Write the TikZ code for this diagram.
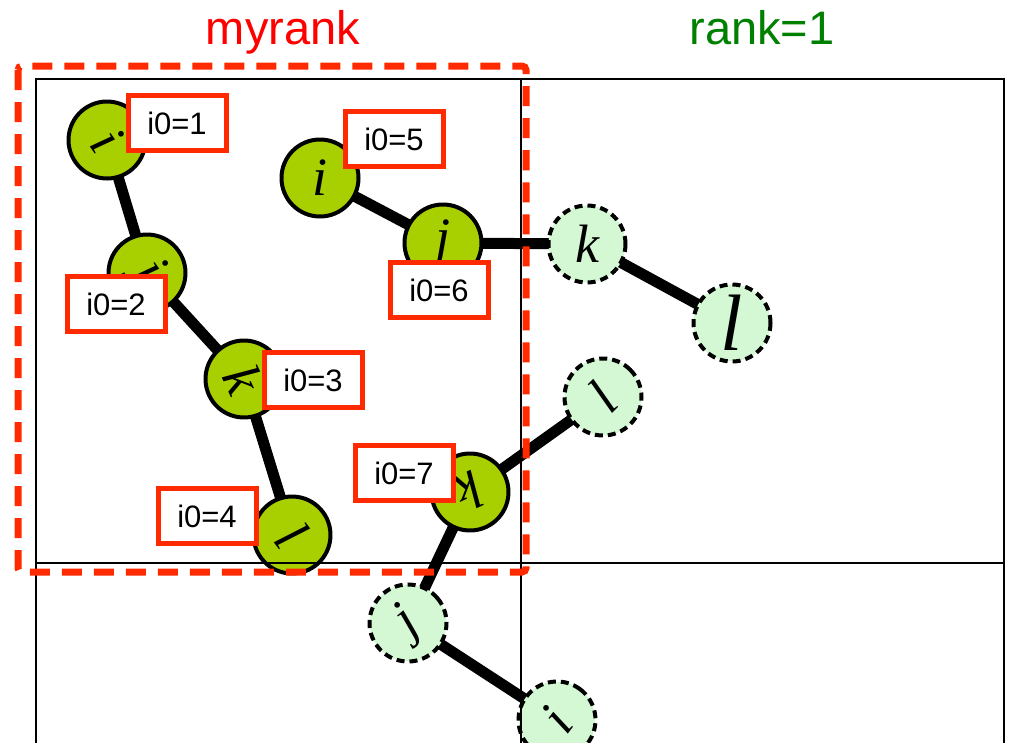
\documentclass[tikz,border=0pt]{standalone}
\usepackage{fontspec}
\setmainfont{Liberation Sans}
\newfontfamily\letterfont{Liberation Serif}
\usetikzlibrary{backgrounds}
\definecolor{beadgreen}{RGB}{168,208,0}
\definecolor{ghostgreen}{RGB}{212,248,212}
\definecolor{tagred}{RGB}{255,42,0}
\definecolor{titlegreen}{RGB}{0,128,0}
\begin{document}
\begin{tikzpicture}[x=1pt,y=-1pt,
  bead/.style={circle, draw=black, line width=4pt, fill=beadgreen, minimum size=77pt, inner sep=0pt, font=\letterfont\itshape\fontsize{54}{54}\selectfont},
  ghost/.style={bead, fill=ghostgreen, dash pattern=on 8pt off 5pt},
  tag/.style={draw=tagred, line width=5pt, fill=white, minimum width=98pt, minimum height=55pt, inner sep=0pt, font=\fontsize{31}{31}\selectfont},
  bond/.style={line width=11pt},
  gridline/.style={line width=2pt},
  title/.style={font=\fontsize{47}{47}\selectfont, anchor=base}]
\useasboundingbox (0,0) rectangle (1009,742);
\clip (0,0) rectangle (1009,742);
% beads
\node[bead, rotate=-55] (a1) at (107,140) {i};
\node[bead, rotate=-55] (a2) at (147,273) {j};
\node[bead, rotate=-65] (a3) at (244,379) {k};
\node[bead, rotate=-53] (a4) at (292,535) {l};
\node[bead] (b1) at (320,178) {i};
\node[bead] (b2) at (443,243) {j};
\node[ghost] (b3) at (587,244) {k};
\node[ghost, font=\letterfont\itshape\fontsize{80}{80}\selectfont] (b4) at (732,323) {l};
\node[ghost, rotate=45] (c1) at (603,397) {l};
\node[bead, rotate=205] (c2) at (470,492) {k};
\node[ghost, rotate=40] (c3) at (408,623) {j};
\node[ghost, rotate=53] (c4) at (557,720) {i};
% bonds
\begin{scope}[on background layer]
\draw[bond] (a1.center) -- (a2.center) -- (a3.center) -- (a4.center);
\draw[bond] (b1.center) -- (b2.center) -- (b3.center) -- (b4.center);
\draw[bond] (c1.center) -- (c2.center) -- (c3.center) -- (c4.center);
\end{scope}
% grid
\coordinate (g1) at (36,760);
\coordinate (g2) at (36,79);
\coordinate (g3) at (1004,79);
\coordinate (g4) at (1004,760);
\coordinate (g5) at (521,79);
\coordinate (g6) at (521,760);
\coordinate (g7) at (36,563);
\coordinate (g8) at (1004,563);
\draw[gridline] (g1) -- (g2) -- (g3) -- (g4);
\draw[gridline] (g5) -- (g6);
\draw[gridline] (g7) -- (g8);
% my rank region
\coordinate (r1) at (18,66);
\coordinate (r2) at (526,572);
\draw[tagred, line width=7pt, dash pattern=on 20pt off 12pt, rounded corners=4pt] (r1) rectangle (r2);
% tags
\node[tag] (t1) at (177,123) {i0=1};
\node[tag] (t2) at (116,304) {i0=2};
\node[tag] (t3) at (313,380) {i0=3};
\node[tag] (t4) at (207,516) {i0=4};
\node[tag] (t5) at (394,139) {i0=5};
\node[tag] (t6) at (439,290) {i0=6};
\node[tag] (t7) at (404,473) {i0=7};
% titles
\node[title, text=red] (h1) at (283,44) {myrank};
\node[title, text=titlegreen] (h2) at (762,44) {rank=1};
\end{tikzpicture}
\end{document}
